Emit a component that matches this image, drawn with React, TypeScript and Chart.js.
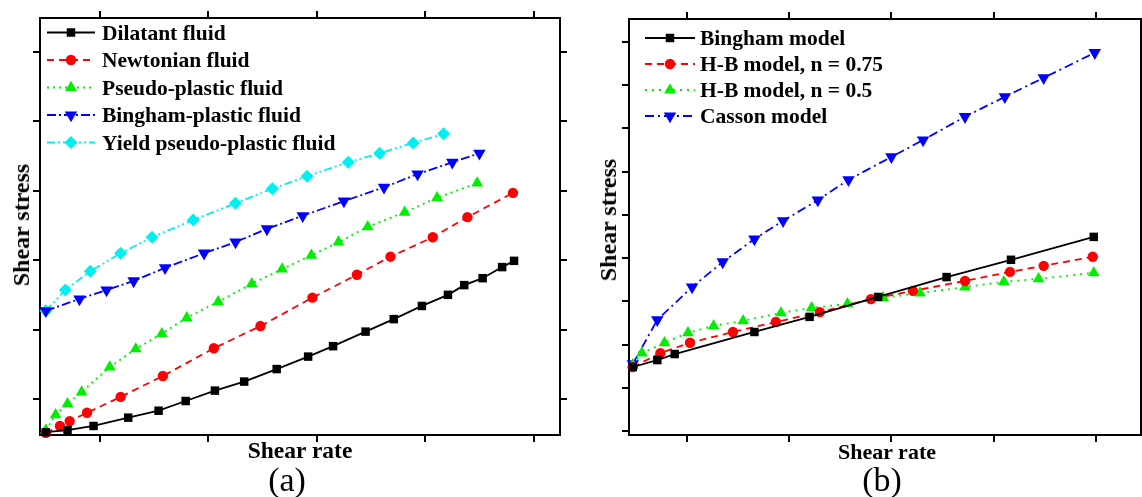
import React, { useEffect, useRef } from "react";
import { Chart, registerables } from "chart.js";

Chart.register(...registerables);

// ---------- Panel (a) data ----------
const aXTicks = [1, 2, 3, 4, 5];
const aYTicks = [1, 2, 3, 4, 5, 6];
const aLabels = [
  "Dilatant fluid",
  "Newtonian fluid",
  "Pseudo-plastic fluid",
  "Bingham-plastic fluid",
  "Yield pseudo-plastic fluid",
];
const dilatantX = [0.5, 0.7, 0.94, 1.26, 1.54, 1.79, 2.06, 2.33, 2.63, 2.92, 3.15, 3.45, 3.71, 3.97, 4.21, 4.36, 4.53, 4.71, 4.82];
const dilatantY = [0.52, 0.55, 0.61, 0.73, 0.83, 0.97, 1.12, 1.25, 1.43, 1.61, 1.76, 1.97, 2.15, 2.34, 2.5, 2.64, 2.74, 2.9, 2.99];
const newtonianX = [0.5, 0.63, 0.72, 0.88, 1.19, 1.58, 2.05, 2.48, 2.96, 3.37, 3.68, 4.07, 4.39, 4.81];
const newtonianY = [0.51, 0.61, 0.68, 0.8, 1.03, 1.33, 1.73, 2.05, 2.46, 2.79, 3.05, 3.33, 3.62, 3.97];
const pseudoX = [0.5, 0.59, 0.7, 0.83, 1.09, 1.33, 1.57, 1.8, 2.09, 2.4, 2.68, 2.95, 3.2, 3.47, 3.81, 4.11, 4.48];
const pseudoY = [0.55, 0.77, 0.93, 1.1, 1.46, 1.72, 1.94, 2.17, 2.4, 2.66, 2.87, 3.07, 3.26, 3.48, 3.69, 3.9, 4.11];
const binghamPlX = [0.5, 0.81, 1.06, 1.31, 1.6, 1.96, 2.25, 2.54, 2.87, 3.25, 3.62, 3.93, 4.25, 4.5];
const binghamPlY = [2.27, 2.44, 2.57, 2.7, 2.89, 3.1, 3.26, 3.45, 3.64, 3.85, 4.05, 4.24, 4.41, 4.54];
const yieldX = [0.5, 0.68, 0.91, 1.19, 1.48, 1.86, 2.25, 2.59, 2.91, 3.29, 3.58, 3.89, 4.17];
const yieldY = [2.27, 2.57, 2.84, 3.1, 3.33, 3.58, 3.82, 4.03, 4.21, 4.41, 4.54, 4.69, 4.82];

// ---------- Panel (b) data ----------
const bXTicks = [1, 2, 3, 4, 5];
const bYTicks = [0, 1, 2, 3, 4, 5, 6, 7, 8, 9];
const bLabels = ["Bingham model", "H-B model, n = 0.75", "H-B model, n = 0.5", "Casson model"];
const binghamX = [0.47, 0.71, 0.88, 1.66, 2.2, 2.87, 3.54, 4.17, 4.98];
const binghamY = [1.48, 1.64, 1.78, 2.29, 2.64, 3.1, 3.56, 3.96, 4.49];
const hb75X = [0.47, 0.74, 1.03, 1.45, 1.87, 2.3, 2.8, 3.21, 3.72, 4.16, 4.49, 4.97];
const hb75Y = [1.48, 1.8, 2.04, 2.29, 2.52, 2.75, 3.05, 3.24, 3.47, 3.68, 3.82, 4.03];
const hb50X = [0.47, 0.56, 0.78, 1.01, 1.26, 1.55, 1.92, 2.22, 2.57, 2.92, 3.28, 3.72, 4.1, 4.44, 4.98];
const hb50Y = [1.53, 1.8, 2.04, 2.27, 2.43, 2.55, 2.73, 2.85, 2.94, 3.08, 3.19, 3.33, 3.45, 3.52, 3.66];
const cassonX = [0.47, 0.71, 1.05, 1.35, 1.66, 1.94, 2.28, 2.58, 3.0, 3.31, 3.72, 4.11, 4.49, 4.99];
const cassonY = [1.55, 2.57, 3.33, 3.91, 4.44, 4.86, 5.34, 5.81, 6.34, 6.73, 7.27, 7.73, 8.17, 8.75];

const SERIF = '"Liberation Serif", "Times New Roman", serif';

const zip = (xs: number[], ys: number[]) => xs.map((x, i) => ({ x, y: ys[i] }));

function drawMarker(ctx: CanvasRenderingContext2D, style: string, rotation: number, x: number, y: number, r: number) {
  ctx.beginPath();
  if (style === "circle") {
    ctx.arc(x, y, r, 0, Math.PI * 2);
  } else if (style === "rect") {
    const s = Math.SQRT1_2 * r;
    ctx.rect(x - s, y - s, 2 * s, 2 * s);
  } else if (style === "rectRot") {
    ctx.moveTo(x, y - r);
    ctx.lineTo(x + r, y);
    ctx.lineTo(x, y + r);
    ctx.lineTo(x - r, y);
    ctx.closePath();
  } else if (style === "triangle") {
    let rad = ((rotation || 0) * Math.PI) / 180;
    ctx.moveTo(x + Math.sin(rad) * r, y - Math.cos(rad) * r);
    rad += (2 * Math.PI) / 3;
    ctx.lineTo(x + Math.sin(rad) * r, y - Math.cos(rad) * r);
    rad += (2 * Math.PI) / 3;
    ctx.lineTo(x + Math.sin(rad) * r, y - Math.cos(rad) * r);
    ctx.closePath();
  }
  ctx.fill();
}

const inlineLegend = {
  id: "inlineLegend",
  afterDraw(chart: any, _args: any, opts: any) {
    if (!opts || !opts.rows) return;
    const ctx: CanvasRenderingContext2D = chart.ctx;
    chart.data.datasets.forEach((ds: any, i: number) => {
      const y = opts.rows[i];
      ctx.save();
      ctx.strokeStyle = ds.borderColor;
      ctx.lineWidth = ds.borderWidth;
      ctx.setLineDash(ds.borderDash || []);
      ctx.beginPath();
      ctx.moveTo(opts.x0, y);
      ctx.lineTo(opts.x1, y);
      ctx.stroke();
      ctx.setLineDash([]);
      ctx.fillStyle = ds.pointBackgroundColor;
      drawMarker(ctx, ds.pointStyle, ds.pointRotation || 0, (opts.x0 + opts.x1) / 2, y, ds.pointRadius);
      ctx.fillStyle = "#000";
      ctx.font = opts.font;
      ctx.textBaseline = "alphabetic";
      ctx.fillText(ds.label, opts.textX, y + opts.baseOffset);
      ctx.restore();
    });
  },
};

function axis(axisName: string, position: string, min: number, max: number, ticks: number[], drawTicks = true) {
  return {
    type: "linear",
    axis: axisName,
    position,
    min,
    max,
    afterBuildTicks: (s: any) => {
      s.ticks = ticks.map((v) => ({ value: v }));
    },
    ticks: { display: false },
    grid: {
      display: true,
      drawOnChartArea: false,
      drawTicks,
      tickLength: drawTicks ? 7 : 0,
      tickWidth: 2,
      tickColor: "#000",
      lineWidth: 2,
      color: "#000",
    },
    border: { display: true, color: "#000", width: 2 },
  };
}

function ds(label: string, data: any[], color: string, dash: number[], style: string, radius: number, rotation = 0) {
  return {
    label,
    data,
    borderColor: color,
    backgroundColor: color,
    borderWidth: 1.8,
    borderDash: dash,
    pointStyle: style,
    pointRadius: radius,
    pointRotation: rotation,
    pointBackgroundColor: color,
    pointBorderColor: color,
    pointBorderWidth: 0,
    tension: 0,
    fill: false,
    clip: false,
  };
}

export default function App() {
  const refA = useRef<HTMLCanvasElement>(null);
  const refB = useRef<HTMLCanvasElement>(null);

  useEffect(() => {
    const chartA = new Chart(refA.current as HTMLCanvasElement, {
      type: "line",
      data: {
        datasets: [
          ds(aLabels[0], zip(dilatantX, dilatantY), "#000000", [], "rect", 6),
          ds(aLabels[1], zip(newtonianX, newtonianY), "#ff0000", [7, 5], "circle", 5.2),
          ds(aLabels[2], zip(pseudoX, pseudoY), "#00ee00", [2, 4], "triangle", 6.8),
          ds(aLabels[3], zip(binghamPlX, binghamPlY), "#0000ff", [9, 3, 2, 3], "triangle", 7.2, 180),
          ds(aLabels[4], zip(yieldX, yieldY), "#00f0f0", [8, 3, 2, 3, 2, 3], "rectRot", 6.5),
        ] as any,
      },
      options: {
        responsive: false,
        animation: false,
        layout: { padding: { left: 33, top: 11, right: 13, bottom: 3 } },
        plugins: {
          legend: { display: false },
          tooltip: { enabled: false },
          inlineLegend: { rows: [32.5, 60, 87.5, 115, 142.5], x0: 47, x1: 95, textX: 102, baseOffset: 7, font: `bold 21.5px ${SERIF}` },
        } as any,
        scales: {
          x: axis("x", "bottom", 0.446, 5.244, aXTicks),
          x2: axis("x", "top", 0.446, 5.244, aXTicks),
          y: axis("y", "left", 0.48, 6.49, aYTicks),
          y2: axis("y", "right", 0.48, 6.49, aYTicks),
        } as any,
      },
      plugins: [inlineLegend],
    });

    const chartB = new Chart(refB.current as HTMLCanvasElement, {
      type: "line",
      data: {
        datasets: [
          ds(bLabels[0], zip(binghamX, binghamY), "#000000", [], "rect", 6),
          ds(bLabels[1], zip(hb75X, hb75Y), "#ff0000", [7, 5], "circle", 5.2),
          ds(bLabels[2], zip(hb50X, hb50Y), "#00ee00", [2, 5], "triangle", 6.8),
          ds(bLabels[3], zip(cassonX, cassonY), "#0000ff", [9, 4, 2, 4], "triangle", 7.2, 180),
        ] as any,
      },
      options: {
        responsive: false,
        animation: false,
        layout: { padding: { left: 32, top: 12, right: 1, bottom: 3 } },
        plugins: {
          legend: { display: false },
          tooltip: { enabled: false },
          inlineLegend: { rows: [38, 64, 90, 116], x0: 55, x1: 105, textX: 110, baseOffset: 7, font: `bold 21.5px ${SERIF}` },
        } as any,
        scales: {
          x: axis("x", "bottom", 0.433, 5.44, bXTicks),
          x2: axis("x", "top", 0.433, 5.44, bXTicks),
          y: axis("y", "left", -0.093, 9.53, bYTicks),
          y2: axis("y", "right", -0.093, 9.53, bYTicks, false),
        } as any,
      },
      plugins: [inlineLegend],
    });

    return () => {
      chartA.destroy();
      chartB.destroy();
    };
  }, []);

  const textBase: React.CSSProperties = {
    position: "absolute",
    fontFamily: SERIF,
    whiteSpace: "nowrap",
    lineHeight: 1,
    color: "#000",
  };
  const vTitle = (cx: number, cy: number, size: number): React.CSSProperties => ({
    ...textBase,
    left: cx,
    top: cy,
    fontSize: size,
    fontWeight: "bold",
    transform: "translate(-50%, -50%) rotate(-90deg)",
  });
  const hText = (cx: number, baseline: number, size: number, bold: boolean): React.CSSProperties => ({
    ...textBase,
    left: cx,
    top: baseline - 0.8375 * size,
    fontSize: size,
    fontWeight: bold ? "bold" : "normal",
    transform: "translateX(-50%)",
  });

  return (
    <div style={{ position: "fixed", left: 0, top: 0, width: 1142, height: 497, background: "#fff", overflow: "hidden" }}>
      <canvas ref={refA} width={580} height={445} style={{ position: "absolute", left: 0, top: 0 }} />
      <canvas ref={refB} width={558} height={445} style={{ position: "absolute", left: 590, top: 0 }} />
      <div style={vTitle(21, 225, 24)}>Shear stress</div>
      <div style={hText(300, 459, 23.5, true)}>Shear rate</div>
      <div style={hText(287, 491, 34, false)}>(a)</div>
      <div style={vTitle(608, 220, 24)}>Shear stress</div>
      <div style={hText(887, 459, 22, true)}>Shear rate</div>
      <div style={hText(882, 491, 34, false)}>(b)</div>
    </div>
  );
}
